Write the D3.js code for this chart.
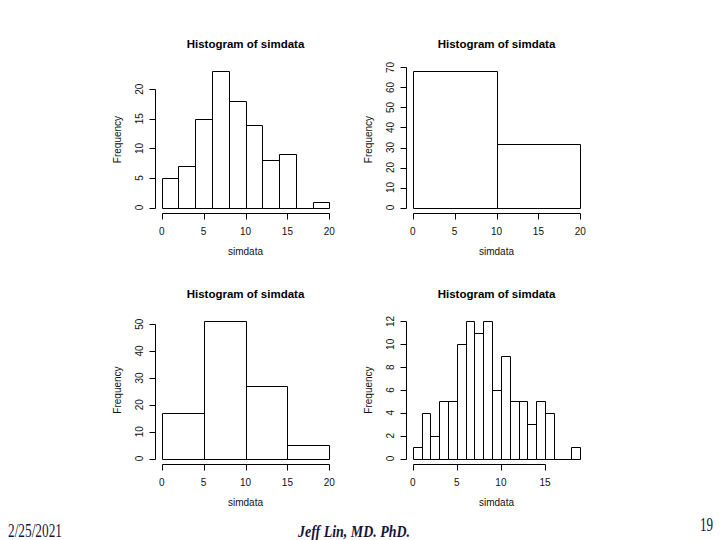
<!DOCTYPE html>
<html>
<head>
<meta charset="utf-8">
<script src="https://cdn.jsdelivr.net/npm/d3@7"></script>
<style>
  html, body { margin: 0; padding: 0; background: #fff; }
  svg { display: block; }
</style>
</head>
<body>
<script>
// ---- data ----
const titleText = "Histogram of simdata";
const xLabelText = "simdata";
const yLabelText = "Frequency";

const breaks1 = [0, 2, 4, 6, 8, 10, 12, 14, 16, 18, 20];
const counts1 = [5, 7, 15, 23, 18, 14, 8, 9, 0, 1];
const xTicks1 = [0, 5, 10, 15, 20];
const yTicks1 = [0, 5, 10, 15, 20];

const breaks2 = [0, 10, 20];
const counts2 = [68, 32];
const xTicks2 = [0, 5, 10, 15, 20];
const yTicks2 = [0, 10, 20, 30, 40, 50, 60, 70];

const breaks3 = [0, 5, 10, 15, 20];
const counts3 = [17, 51, 27, 5];
const xTicks3 = [0, 5, 10, 15, 20];
const yTicks3 = [0, 10, 20, 30, 40, 50];

const breaks4 = [0, 1, 2, 3, 4, 5, 6, 7, 8, 9, 10, 11, 12, 13, 14, 15, 16, 17, 18, 19];
const counts4 = [1, 4, 2, 5, 5, 10, 12, 11, 12, 6, 9, 5, 5, 3, 5, 4, 0, 0, 1];
const xTicks4 = [0, 5, 10, 15];
const yTicks4 = [0, 2, 4, 6, 8, 10, 12];

const footerDate = "2/25/2021";
const footerAuthor = "Jeff Lin, MD. PhD.";
const footerPage = "19";

// ---- layout ----
const W = 720, H = 540;
const svg = d3.select("body").append("svg").attr("width", W).attr("height", H);
svg.append("rect").attr("width", W).attr("height", H).attr("fill", "#fff");

const cols = [[155, 336], [406, 587]];
const rows = [[66, 213], [316, 464]];

const panels = [
  { breaks: breaks1, counts: counts1, xt: xTicks1, yt: yTicks1, c: 0, r: 0 },
  { breaks: breaks2, counts: counts2, xt: xTicks2, yt: yTicks2, c: 1, r: 0 },
  { breaks: breaks3, counts: counts3, xt: xTicks3, yt: yTicks3, c: 0, r: 1 },
  { breaks: breaks4, counts: counts4, xt: xTicks4, yt: yTicks4, c: 1, r: 1 }
];

const font = "Arial, 'Liberation Sans', Helvetica, sans-serif";
const ink = "#111";

panels.forEach(p => {
  const [px0, px1] = cols[p.c];
  const [py0, py1] = rows[p.r];
  const xmin = p.breaks[0], xmax = p.breaks[p.breaks.length - 1];
  const ymax = d3.max(p.counts);
  const xe = (xmax - xmin) * 0.04, ye = ymax * 0.04;
  const x = d3.scaleLinear().domain([xmin - xe, xmax + xe]).range([px0, px1]);
  const y = d3.scaleLinear().domain([-ye, ymax + ye]).range([py1, py0]);

  const g = svg.append("g");

  // bars
  g.selectAll("path.bar").data(p.counts).enter().append("path")
    .attr("class", "bar")
    .attr("d", (d, i) => {
      const a = Math.round(x(p.breaks[i])) + 0.5, b = Math.round(x(p.breaks[i + 1])) + 0.5;
      const y0 = Math.round(y(0)) + 0.5, y1 = Math.round(y(d)) + 0.5;
      return `M${a},${y0}V${y1}H${b}V${y0}Z`;
    })
    .attr("fill", "none").attr("stroke", "#000").attr("stroke-width", 1);

  // x axis (R style: line spans first to last tick)
  const xa = Math.round(py1) + 0.5;
  g.append("line")
    .attr("x1", Math.round(x(p.xt[0])) + 0.5).attr("x2", Math.round(x(p.xt[p.xt.length - 1])) + 0.5)
    .attr("y1", xa).attr("y2", xa).attr("stroke", "#000");
  g.selectAll("line.xt").data(p.xt).enter().append("line")
    .attr("x1", d => Math.round(x(d)) + 0.5).attr("x2", d => Math.round(x(d)) + 0.5)
    .attr("y1", xa).attr("y2", xa + 6).attr("stroke", "#000");
  g.selectAll("text.xt").data(p.xt).enter().append("text")
    .attr("x", d => x(d)).attr("y", xa + 21)
    .attr("text-anchor", "middle")
    .attr("font-family", font).attr("font-size", 10).attr("fill", ink)
    .text(d => d);

  // y axis
  const ya = Math.round(px0) + 0.5;
  g.append("line")
    .attr("x1", ya).attr("x2", ya)
    .attr("y1", Math.round(y(p.yt[0])) + 0.5).attr("y2", Math.round(y(p.yt[p.yt.length - 1])) + 0.5)
    .attr("stroke", "#000");
  g.selectAll("line.yt").data(p.yt).enter().append("line")
    .attr("x1", ya - 6).attr("x2", ya)
    .attr("y1", d => Math.round(y(d)) + 0.5).attr("y2", d => Math.round(y(d)) + 0.5)
    .attr("stroke", "#000");
  g.selectAll("text.yt").data(p.yt).enter().append("text")
    .attr("transform", d => `translate(${ya - 13},${y(d)}) rotate(-90)`)
    .attr("text-anchor", "middle")
    .attr("font-family", font).attr("font-size", 10).attr("fill", ink)
    .text(d => d);

  // labels
  const cx = (px0 + px1) / 2;
  g.append("text")
    .attr("x", cx).attr("y", py0 - 18)
    .attr("text-anchor", "middle")
    .attr("font-family", font).attr("font-size", 11.5).attr("font-weight", "bold").attr("fill", "#000")
    .text(titleText);
  g.append("text")
    .attr("x", cx).attr("y", xa + 41)
    .attr("text-anchor", "middle")
    .attr("font-family", font).attr("font-size", 10).attr("fill", ink)
    .text(xLabelText);
  g.append("text")
    .attr("transform", `translate(${ya - 35},${(py0 + py1) / 2}) rotate(-90)`)
    .attr("text-anchor", "middle")
    .attr("font-family", font).attr("font-size", 10).attr("fill", ink)
    .text(yLabelText);
});

// ---- footer ----
const serif = "'Times New Roman', 'Liberation Serif', serif";
const navy = "#14143c";
svg.append("text")
  .attr("x", 8).attr("y", 537)
  .attr("font-family", serif).attr("font-size", 18).attr("fill", navy)
  .attr("textLength", 54).attr("lengthAdjust", "spacingAndGlyphs")
  .text(footerDate);
svg.append("text")
  .attr("x", 298).attr("y", 537)
  .attr("font-family", serif).attr("font-size", 16).attr("font-weight", "bold").attr("font-style", "italic")
  .attr("fill", navy)
  .attr("textLength", 112).attr("lengthAdjust", "spacingAndGlyphs")
  .text(footerAuthor);
svg.append("text")
  .attr("x", 700).attr("y", 531)
  .attr("font-family", serif).attr("font-size", 18).attr("fill", navy)
  .attr("textLength", 13).attr("lengthAdjust", "spacingAndGlyphs")
  .text(footerPage);
</script>
</body>
</html>
